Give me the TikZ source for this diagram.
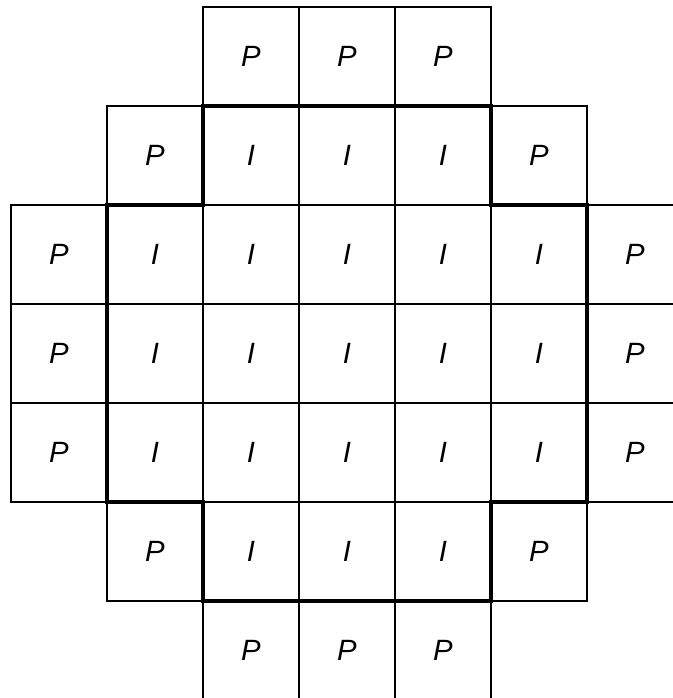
\documentclass[tikz,border=0pt]{standalone}
\usepackage{fontspec}
\setmainfont{Liberation Sans}
\begin{document}
\begin{tikzpicture}[x=0.75pt,y=-0.75pt,
  cell/.style={draw, line width=1.5pt, minimum width=72pt, minimum height=74.25pt,
    inner sep=0pt, outer sep=0pt, font=\itshape\fontsize{22}{22}\selectfont},
  border/.style={line width=3pt, line join=miter}]
\useasboundingbox (0,0) rectangle (673,698);
% top and bottom rows
\foreach \c in {2,3,4} {
  \node[cell] (c0\c) at ({59+96*\c},56.5) {P};
  \node[cell] (c6\c) at ({59+96*\c},{56.5+99*6}) {P};
}
% rows 1 and 5
\foreach \r in {1,5} {
  \node[cell] (c\r1) at ({59+96},{56.5+99*\r}) {P};
  \node[cell] (c\r5) at ({59+96*5},{56.5+99*\r}) {P};
  \foreach \c in {2,3,4} {
    \node[cell] (c\r\c) at ({59+96*\c},{56.5+99*\r}) {I};
  }
}
% rows 2 to 4
\foreach \r in {2,3,4} {
  \node[cell] (c\r0) at (59,{56.5+99*\r}) {P};
  \node[cell] (c\r6) at ({59+96*6},{56.5+99*\r}) {P};
  \foreach \c in {1,2,3,4,5} {
    \node[cell] (c\r\c) at ({59+96*\c},{56.5+99*\r}) {I};
  }
}
% thick outline of the interior region
\draw[border] (c12.north west) -- (c14.north east) -- (c14.south east)
  -- (c25.north east) -- (c45.south east) -- (c54.north east)
  -- (c54.south east) -- (c52.south west) -- (c52.north west)
  -- (c41.south west) -- (c21.north west) -- (c12.south west) -- cycle;
\end{tikzpicture}
\end{document}
